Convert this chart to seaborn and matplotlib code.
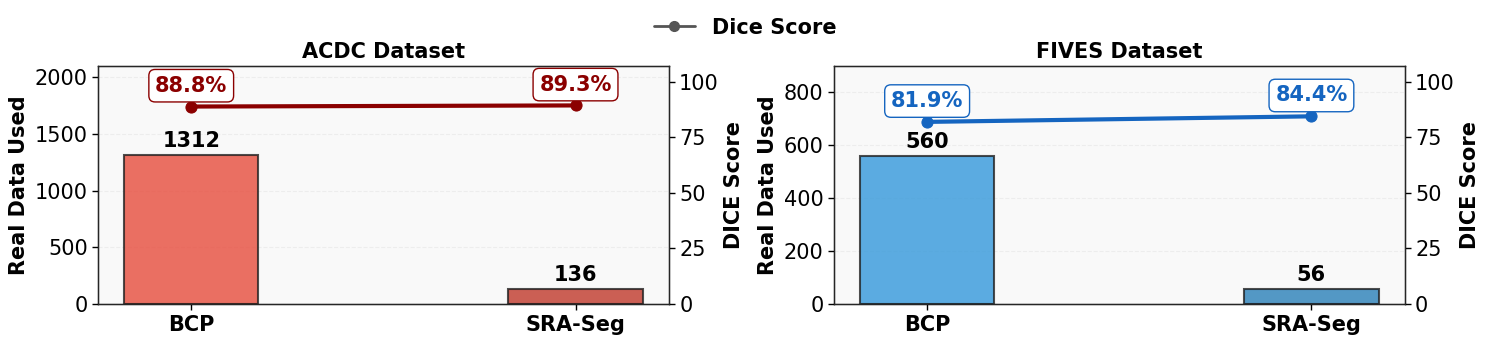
import numpy as np
import pandas as pd
import seaborn as sns
import matplotlib.pyplot as plt
from matplotlib.lines import Line2D

methods = ["BCP", "SRA-Seg"]

acdc_data = [1312, 136]
acdc_dice = [88.8, 89.3]

fives_data = [560, 56]
fives_dice = [81.9, 84.4]

sns.set_style("white")
plt.rcParams["font.family"] = ["DejaVu Sans"]
plt.rcParams["font.size"] = 15
plt.rcParams["text.color"] = "black"
plt.rcParams["axes.labelcolor"] = "black"
plt.rcParams["xtick.color"] = "black"
plt.rcParams["ytick.color"] = "black"


def draw_panel(ax, title, data, dice, bar_colors, line_color, ymax):
    df = pd.DataFrame({"method": methods, "data": data})
    sns.barplot(data=df, x="method", y="data", hue="method", palette=bar_colors,
                width=0.35, alpha=0.8, saturation=1, edgecolor="#222222",
                linewidth=1.5, legend=False, ax=ax)
    ax.set_facecolor("#f9f9f9")
    ax.set_ylim(0, ymax)
    ax.set_xlabel("")
    ax.set_ylabel("Real Data Used", fontweight="bold", fontsize=15)
    ax.set_title(title, fontweight="bold", fontsize=15)
    ax.grid(axis="y", linestyle="--", alpha=0.25)
    ax.set_axisbelow(True)
    ax.tick_params(axis="both", labelsize=15, length=4, width=1,
                   bottom=True, left=True, direction="out")
    for lbl in ax.get_xticklabels():
        lbl.set_fontweight("bold")
    for spine in ax.spines.values():
        spine.set_color("black")
        spine.set_linewidth(1.0)

    for i, v in enumerate(data):
        ax.annotate(f"{v}", (i, v), xytext=(0, 3), textcoords="offset points",
                    ha="center", va="bottom", fontsize=15, fontweight="bold")

    ax2 = ax.twinx()
    sns.lineplot(x=[0, 1], y=dice, color=line_color, linewidth=3, marker="o",
                 markersize=8, markeredgecolor=line_color, ax=ax2)
    ax2.set_ylim(0, 107)
    ax2.set_yticks([0, 25, 50, 75, 100])
    ax2.set_ylabel("DICE Score", fontweight="bold", fontsize=15)
    ax2.tick_params(axis="y", labelsize=15, length=4, width=1, right=True,
                    direction="out")
    ax2.grid(False)
    for i, d in enumerate(dice):
        ax2.annotate(f"{d:.1f}%", (i, d), xytext=(0, 15), textcoords="offset points",
                     ha="center", va="center", fontsize=15, fontweight="bold",
                     color=line_color,
                     bbox=dict(boxstyle="round,pad=0.3", facecolor="white",
                               edgecolor=line_color, linewidth=1))
    return ax2


fig = plt.figure(figsize=(14.9, 3.44), dpi=100)
ax_a = fig.add_axes([0.0658, 0.116, 0.383, 0.692])
ax_b = fig.add_axes([0.5597, 0.116, 0.383, 0.692])

draw_panel(ax_a, "ACDC Dataset", acdc_data, acdc_dice, ["#e74c3c", "#c0392b"], "#8b0000", 2100)
draw_panel(ax_b, "FIVES Dataset", fives_data, fives_dice, ["#3498db", "#2980b9"], "#1565c0", 900)

handle = Line2D([], [], color="#555555", linewidth=2, marker="o", markersize=7)
leg = fig.legend([handle], ["Dice Score"], loc="center", bbox_to_anchor=(0.5, 0.92),
                 frameon=False, prop={"weight": "bold", "size": 15})

fig.savefig("out.png", dpi=100)
